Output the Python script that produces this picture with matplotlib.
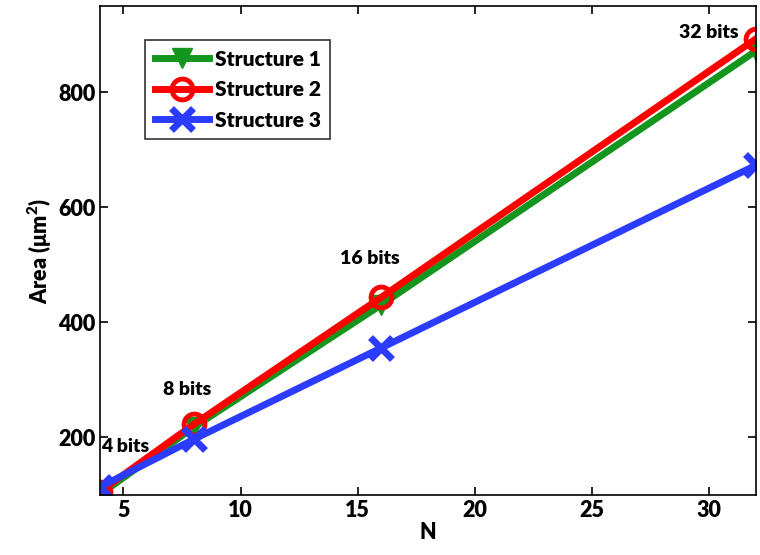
import matplotlib.pyplot as plt

plt.rcParams['font.family'] = ['Lato', 'DejaVu Sans']
plt.rcParams['font.weight'] = 'bold'
plt.rcParams['mathtext.default'] = 'regular'

n_bits = [4, 8, 16, 32]
structure1 = [100, 217, 430, 872]
structure2 = [105, 222, 443, 893]
structure3 = [113, 196, 355, 673]
bit_labels = ['4 bits', '8 bits', '16 bits', '32 bits']

fig = plt.figure(figsize=(7.6, 5.55), dpi=100)
ax = fig.add_axes([0.1316, 0.108, 0.863, 0.881])

ax.plot(n_bits, structure1, color='#14961e', lw=5, marker='v', ms=15,
        mfc='#14961e', mec='#14961e', label='Structure 1')
ax.plot(n_bits, structure2, color='#ff0000', lw=5, marker='o', ms=15,
        mfc='none', mec='#ff0000', mew=3.5, label='Structure 2')
ax.plot(n_bits, structure3, color='#2b3cff', lw=5, marker='x', ms=16,
        mec='#2b3cff', mew=5, label='Structure 3')

# bit annotations
ax.text(4.05, 183, bit_labels[0], fontsize=14, fontweight='heavy', ha='left', va='center')
ax.text(7.73, 282, bit_labels[1], fontsize=14, fontweight='heavy', ha='center', va='center')
ax.text(15.5, 510, bit_labels[2], fontsize=14, fontweight='heavy', ha='center', va='center')
ax.text(30.0, 904, bit_labels[3], fontsize=14, fontweight='heavy', ha='center', va='center')

ax.set_xlim(4, 32)
ax.set_ylim(99, 950)
ax.set_xticks([5, 10, 15, 20, 25, 30])
ax.set_yticks([200, 400, 600, 800])
ax.tick_params(direction='in', top=True, right=True, length=6, width=1.2, labelsize=15.5)
for lbl in ax.get_xticklabels() + ax.get_yticklabels():
    lbl.set_fontweight('heavy')
for s in ax.spines.values():
    s.set_linewidth(1.2)

ax.set_xlabel('N', fontsize=15.5, fontweight='heavy', labelpad=1)
ax.set_ylabel(r'Area ($\mu$m$^2$)', fontsize=15.5, fontweight='heavy', labelpad=3)

leg = ax.legend(loc='upper left', bbox_to_anchor=(0.069, 0.93), borderaxespad=0,
                frameon=True, fancybox=False, edgecolor='black', handlelength=2.6,
                borderpad=0.45, labelspacing=0.55, handletextpad=0.3,
                prop={'size': 15, 'weight': 'heavy'})
leg.get_frame().set_linewidth(1.2)

fig.savefig('out.png', dpi=100)
